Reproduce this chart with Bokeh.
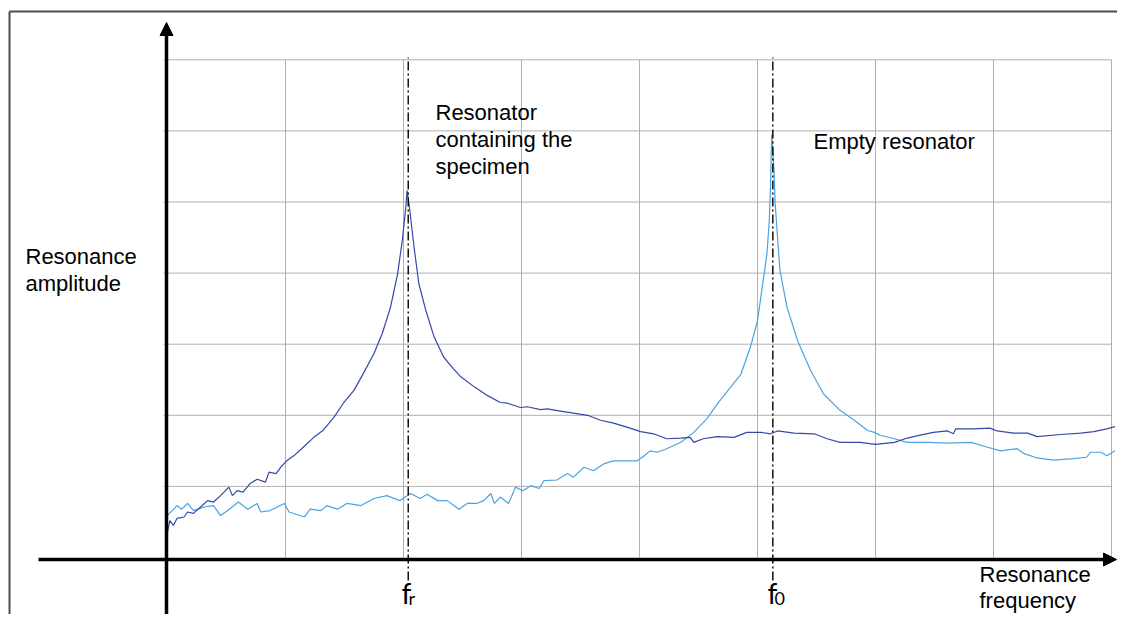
from bokeh.plotting import figure
from bokeh.models import Range1d, Arrow, NormalHead
from bokeh.core.properties import value
from bokeh.embed import file_html
from bokeh.resources import INLINE

# ---------------- data (frequency / amplitude in grid units) ----------------
specimen_x = [0.00, 0.02, 0.05, 0.08, 0.14, 0.17, 0.22, 0.28, 0.34, 0.39, 0.45, 0.52, 0.55,
              0.59, 0.64, 0.70, 0.76, 0.83, 0.86, 0.92, 0.96, 1.01, 1.07, 1.15, 1.24, 1.32,
              1.41, 1.49, 1.58, 1.66, 1.75, 1.82, 1.89, 1.95, 1.99, 2.02, 2.03, 2.05, 2.09,
              2.13, 2.19, 2.26, 2.34, 2.42, 2.48, 2.60, 2.71, 2.82, 2.88, 2.99, 3.05, 3.16,
              3.22, 3.33, 3.44, 3.56, 3.67, 3.78, 3.90, 4.01, 4.12, 4.23, 4.35, 4.43, 4.46,
              4.54, 4.66, 4.80, 4.91, 5.03, 5.11, 5.17, 5.31, 5.48, 5.59, 5.70, 5.87, 6.00,
              6.16, 6.27, 6.38, 6.49, 6.61, 6.66, 6.68, 6.83, 6.97, 7.03, 7.17, 7.29, 7.37,
              7.57, 7.74, 7.85, 7.96, 8.03]
specimen_y = [0.36, 0.52, 0.45, 0.55, 0.57, 0.64, 0.62, 0.71, 0.80, 0.78, 0.87, 0.99, 0.87,
              0.94, 0.92, 1.04, 1.10, 1.06, 1.20, 1.18, 1.27, 1.36, 1.43, 1.55, 1.69, 1.79,
              1.97, 2.17, 2.35, 2.59, 2.87, 3.15, 3.52, 3.99, 4.46, 4.93, 5.16, 4.93, 4.36,
              3.85, 3.47, 3.10, 2.82, 2.66, 2.55, 2.40, 2.28, 2.18, 2.17, 2.11, 2.12, 2.08,
              2.09, 2.06, 2.03, 2.00, 1.93, 1.89, 1.83, 1.77, 1.74, 1.67, 1.68, 1.69, 1.62,
              1.67, 1.70, 1.69, 1.76, 1.76, 1.74, 1.78, 1.75, 1.74, 1.67, 1.62, 1.62, 1.59,
              1.62, 1.68, 1.72, 1.76, 1.78, 1.74, 1.81, 1.81, 1.82, 1.78, 1.75, 1.75, 1.70,
              1.73, 1.75, 1.77, 1.81, 1.84]

empty_x = [0.00, 0.01, 0.08, 0.12, 0.17, 0.22, 0.31, 0.39, 0.45, 0.51, 0.60, 0.68, 0.76,
           0.79, 0.87, 0.99, 1.03, 1.16, 1.21, 1.30, 1.35, 1.44, 1.52, 1.64, 1.75, 1.86,
           1.97, 2.06, 2.14, 2.20, 2.29, 2.37, 2.47, 2.54, 2.62, 2.68, 2.74, 2.77, 2.82,
           2.89, 2.95, 3.01, 3.08, 3.15, 3.19, 3.30, 3.39, 3.44, 3.53, 3.61, 3.70, 3.78,
           3.90, 3.98, 4.04, 4.09, 4.15, 4.23, 4.35, 4.46, 4.57, 4.66, 4.74, 4.86, 4.94,
           5.00, 5.04, 5.08, 5.10, 5.11, 5.12, 5.14, 5.15, 5.17, 5.19, 5.25, 5.34, 5.45,
           5.56, 5.70, 5.82, 5.93, 5.99, 6.04, 6.16, 6.27, 6.44, 6.61, 6.81, 6.95, 7.06,
           7.20, 7.26, 7.37, 7.51, 7.68, 7.79, 7.82, 7.91, 7.96, 8.03]
empty_y = [0.59, 0.61, 0.73, 0.68, 0.76, 0.66, 0.71, 0.73, 0.59, 0.66, 0.78, 0.68, 0.76,
           0.64, 0.66, 0.76, 0.64, 0.57, 0.68, 0.66, 0.73, 0.68, 0.76, 0.73, 0.83, 0.87,
           0.80, 0.90, 0.83, 0.89, 0.80, 0.80, 0.68, 0.76, 0.76, 0.80, 0.90, 0.76, 0.85,
           0.76, 0.99, 0.94, 1.01, 0.97, 1.08, 1.09, 1.18, 1.13, 1.27, 1.22, 1.32, 1.36,
           1.36, 1.36, 1.43, 1.50, 1.48, 1.53, 1.62, 1.76, 1.95, 2.16, 2.33, 2.58, 2.96,
           3.33, 3.80, 4.27, 4.74, 5.21, 5.95, 5.44, 4.97, 4.50, 4.04, 3.52, 3.05, 2.63,
           2.30, 2.07, 1.93, 1.79, 1.76, 1.72, 1.67, 1.62, 1.62, 1.61, 1.62, 1.55, 1.50,
           1.53, 1.46, 1.40, 1.37, 1.39, 1.41, 1.48, 1.48, 1.43, 1.50]

f_r = 2.04          # resonance frequency with specimen
f_0 = 5.13          # resonance frequency of empty resonator
grid_x = [1, 2, 3, 4, 5, 6, 7, 8]
grid_y = [1, 2, 3, 4, 5, 6, 7]
freq_marks = ["f", "f"]
freq_subs = ["r", "0"]

# ---------------- layout ----------------
W, H = 1117, 614
OX, OY = 167.0, 557.0      # canvas pixel of the origin
SX, SY = 118.0, 71.1       # pixels per grid unit
BASE = 0.36                # baseline correction (fraction of font size)


def dx(px):
    return (px - OX) / SX


def dy(py):
    return (OY - py) / SY


def ty(py, fs):
    return dy(py - BASE * fs)


p = figure(width=W, height=H, output_backend="svg", toolbar_location=None, tools="",
           x_range=Range1d(dx(0), dx(W)), y_range=Range1d(dy(H), dy(0)),
           x_axis_type=None, y_axis_type=None, min_border=0)
p.outline_line_color = None
p.background_fill_color = "white"
p.border_fill_color = "white"

# outer frame of the figure box
p.multi_line(xs=[[dx(9), dx(9)], [dx(9), dx(1140)]], ys=[[dy(700), dy(11)], [dy(11), dy(11)]],
             line_color="#4d4d4d", line_width=2)

# grid
GRID = "#b0b0b0"
p.segment(x0=grid_x, x1=grid_x, y0=[0] * len(grid_x), y1=[grid_y[-1]] * len(grid_x),
          line_color=GRID, line_width=1)
p.segment(x0=[dx(163)] * len(grid_y), x1=[grid_x[-1]] * len(grid_y), y0=grid_y, y1=grid_y,
          line_color=GRID, line_width=1)

# curves
p.line(empty_x, empty_y, line_color="#4aa3df", line_width=1.2)
p.line(specimen_x, specimen_y, line_color="#3548a8", line_width=1.2)

# dash-dot marker lines
p.segment(x0=[f_r, f_0], x1=[f_r, f_0], y0=[dy(580)] * 2, y1=[dy(57)] * 2,
          line_color="black", line_width=1.4, line_dash="9 3 2 3")

# axes with arrows
p.add_layout(Arrow(end=NormalHead(size=13, fill_color="black", line_color="black"),
                   x_start=dx(166), y_start=dy(640), x_end=dx(166), y_end=dy(22),
                   line_color="black", line_width=3.5))
p.add_layout(Arrow(end=NormalHead(size=13, fill_color="black", line_color="black"),
                   x_start=dx(38), y_start=dy(559), x_end=dx(1116), y_end=dy(559),
                   line_color="black", line_width=3.5))

# frequency labels
FS_F, FS_S = 28, 18
p.text(x=[f_r - 0.057, f_0 - 0.045], y=[ty(603, FS_F)] * 2, text=freq_marks,
       text_font=value("Lato"), text_font_size=f"{FS_F}px", text_color="black",
       text_align="left", text_baseline="alphabetic")
p.text(x=[f_r + 0.003, f_0 + 0.015], y=[ty(604, FS_S)] * 2, text=freq_subs,
       text_font=value("Lato"), text_font_size=f"{FS_S}px", text_color="black",
       text_align="left", text_baseline="alphabetic")

# annotations
FS = 22
labels = ["Resonator", "containing the", "specimen", "Empty resonator",
          "Resonance", "amplitude", "Resonance", "frequency"]
lx = [435, 435, 435, 813, 25, 25, 979, 979]
ly = [120, 147, 174, 149, 264, 291, 582, 608]
p.text(x=[dx(v) for v in lx], y=[ty(v, FS) for v in ly], text=labels,
       text_font=value("Liberation Sans"), text_font_size=f"{FS}px", text_color="black",
       text_align="left", text_baseline="alphabetic")

open("out.html", "w").write(file_html(p, INLINE))
